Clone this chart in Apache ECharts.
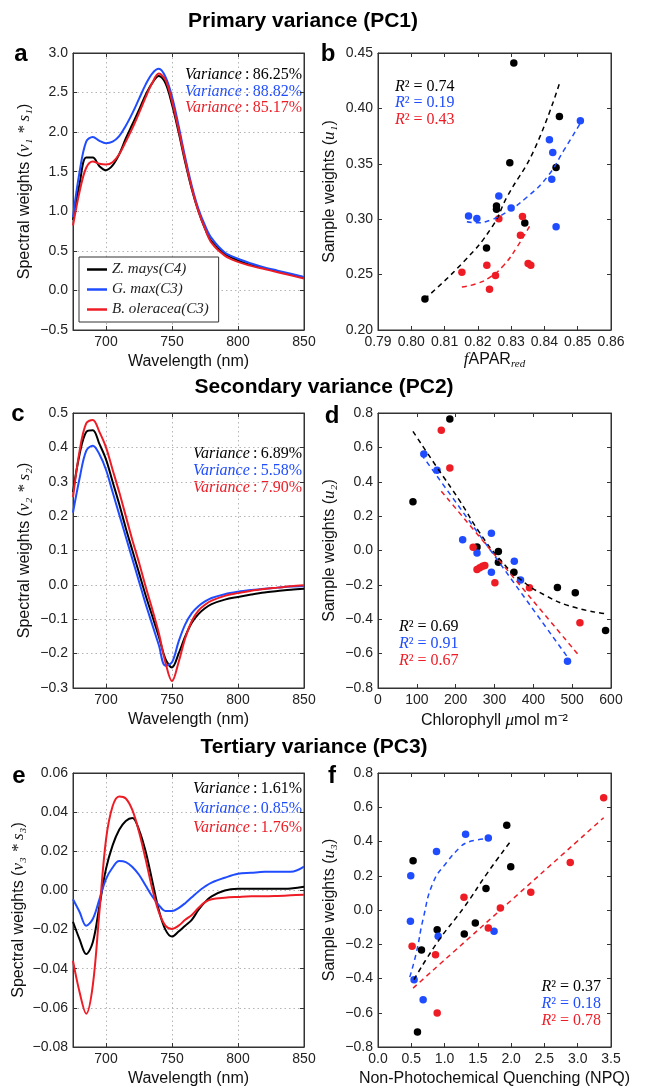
<!DOCTYPE html>
<html><head><meta charset="utf-8">
<script src="https://cdn.jsdelivr.net/npm/echarts@6/dist/echarts.min.js"></script>
<style>html,body{margin:0;padding:0;background:#fff}#c{width:646px;height:1088px}</style>
</head><body><div id="c"></div>
<script>
// ---------- DATA ----------
const wavelengths = [675,680,685,690,695,700,705,710,715,720,725,730,735,740,745,750,755,760,765,770,775,780,790,800,810,820,830,840,850];
const seriesNames = ['Z. mays(C4)','G. max(C3)','B. oleracea(C3)'];
// PC1 spectral weights
const pc1Mays    = [0.89,1.35,1.68,1.68,1.57,1.52,1.58,1.72,1.92,2.10,2.28,2.47,2.62,2.71,2.62,2.35,2.00,1.62,1.28,1.00,0.78,0.62,0.46,0.38,0.32,0.28,0.24,0.20,0.165];
const pc1Max     = [0.93,1.50,1.88,1.94,1.89,1.86,1.88,1.95,2.08,2.24,2.42,2.60,2.74,2.80,2.70,2.45,2.08,1.68,1.32,1.03,0.82,0.66,0.48,0.40,0.34,0.29,0.25,0.21,0.17];
const pc1Oleracea= [0.82,1.25,1.55,1.63,1.60,1.59,1.62,1.72,1.88,2.05,2.24,2.44,2.62,2.74,2.66,2.39,2.03,1.64,1.29,1.00,0.78,0.60,0.44,0.36,0.31,0.27,0.23,0.19,0.15];
// PC2 spectral weights
const pc2Mays    = [0.27,0.38,0.445,0.45,0.41,0.365,0.30,0.235,0.165,0.10,0.035,-0.03,-0.09,-0.15,-0.215,-0.24,-0.20,-0.15,-0.11,-0.085,-0.068,-0.056,-0.043,-0.035,-0.028,-0.022,-0.018,-0.014,-0.011];
const pc2Max     = [0.21,0.31,0.39,0.405,0.38,0.335,0.27,0.205,0.14,0.075,0.01,-0.055,-0.115,-0.175,-0.235,-0.225,-0.165,-0.115,-0.082,-0.062,-0.048,-0.038,-0.027,-0.02,-0.015,-0.011,-0.008,-0.005,-0.003];
const pc2Oleracea= [0.255,0.39,0.47,0.48,0.445,0.40,0.335,0.27,0.20,0.13,0.065,-0.005,-0.07,-0.14,-0.225,-0.28,-0.225,-0.155,-0.105,-0.075,-0.058,-0.046,-0.032,-0.024,-0.017,-0.012,-0.008,-0.004,-0.001];
// PC3 spectral weights
const pc3Mays    = [-0.016,-0.025,-0.0325,-0.0265,-0.008,0.011,0.023,0.031,0.0355,0.037,0.031,0.020,0.005,-0.010,-0.020,-0.0236,-0.021,-0.018,-0.015,-0.010,-0.006,-0.003,0.0,0.0008,0.0008,0.0008,0.0008,0.001,0.0019];
const pc3Max     = [-0.0045,-0.011,-0.018,-0.0146,-0.0045,0.0058,0.0117,0.015,0.0145,0.012,0.008,0.0025,-0.003,-0.0075,-0.0105,-0.0105,-0.009,-0.0065,-0.0035,-0.0005,0.002,0.004,0.0065,0.0085,0.009,0.0095,0.0095,0.0095,0.0122];
const pc3Oleracea= [-0.036,-0.052,-0.063,-0.0485,-0.011,0.026,0.043,0.048,0.047,0.041,0.030,0.016,0.001,-0.011,-0.018,-0.0197,-0.018,-0.015,-0.0125,-0.009,-0.006,-0.0045,-0.0037,-0.0033,-0.003,-0.003,-0.0028,-0.0025,-0.0022];
const varianceLabels = [['86.25%','88.82%','85.17%'],['6.89%','5.58%','7.90%'],['1.61%','0.85%','1.76%']];
// Panel b: fAPAR vs u1
const bMaysPts = [[0.8041,0.228],[0.8226,0.274],[0.8256,0.312],[0.8256,0.309],[0.8296,0.351],[0.8308,0.441],[0.8341,0.2965],[0.8435,0.3466],[0.8445,0.3927]];
const bMaxPts  = [[0.8172,0.3028],[0.8197,0.3007],[0.8263,0.3209],[0.8300,0.3101],[0.8415,0.3716],[0.8425,0.3601],[0.8422,0.336],[0.8435,0.2932],[0.8508,0.3888]];
const bOlePts  = [[0.8152,0.2522],[0.8227,0.2585],[0.8235,0.2368],[0.8253,0.2492],[0.8263,0.3004],[0.8334,0.3025],[0.8328,0.2856],[0.8351,0.26],[0.8359,0.2585]];
const bMaysFit = [[0.804,0.228],[0.8157,0.2615],[0.8243,0.2932],[0.8288,0.3203],[0.8369,0.3625],[0.8447,0.4244]];
const bMaxFit  = [[0.8167,0.2977],[0.8197,0.2968],[0.8238,0.2992],[0.8288,0.3068],[0.8349,0.3203],[0.8409,0.3384],[0.8459,0.3625],[0.8508,0.3867]];
const bOleFit  = [[0.8152,0.2389],[0.8197,0.2419],[0.8238,0.2480],[0.8278,0.2585],[0.8318,0.2751],[0.8359,0.2956]];
const bR2 = ['0.74','0.19','0.43'];
// Panel d: chlorophyll vs u2
const dMaysPts = [[90,0.283],[185,0.765],[255,0.021],[310,-0.006],[310,-0.068],[350,-0.126],[462,-0.215],[508,-0.246],[586,-0.465]];
const dMaxPts  = [[118,0.562],[152,0.467],[218,0.062],[255,-0.015],[292,0.101],[292,-0.126],[351,-0.062],[367,-0.172],[488,-0.645]];
const dOlePts  = [[163,0.699],[185,0.48],[245,0.019],[255,-0.11],[262,-0.10],[269,-0.091],[275,-0.087],[301,-0.188],[390,-0.217],[520,-0.42]];
const dMaysFit = [[90,0.693],[150,0.49],[211,0.287],[262,0.103],[314,-0.052],[365,-0.165],[434,-0.265],[503,-0.329],[586,-0.368]];
const dMaxFit  = [[112,0.558],[486,-0.614]];
const dOleFit  = [[163,0.345],[520,-0.618]];
const dR2 = ['0.69','0.91','0.67'];
// Panel f: NPQ vs u3
const fMaysPts = [[0.527,0.287],[0.653,-0.233],[0.593,-0.712],[0.889,-0.116],[1.296,-0.14],[1.462,-0.076],[1.622,0.126],[1.934,0.495],[1.994,0.252]];
const fMaxPts  = [[0.492,0.2],[0.487,-0.066],[0.542,-0.407],[0.678,-0.524],[0.879,0.341],[0.904,-0.153],[1.316,0.442],[1.657,0.421],[1.743,-0.124]];
const fOlePts  = [[0.512,-0.211],[0.864,-0.262],[0.889,-0.601],[1.291,0.074],[1.657,-0.105],[1.838,0.012],[2.295,0.103],[2.888,0.277],[3.39,0.656]];
const fMaysFit = [[0.54,-0.407],[0.89,-0.19],[1.3,0.02],[1.65,0.22],[1.99,0.40]];
const fMaxFit  = [[0.477,-0.392],[0.578,-0.246],[0.678,-0.052],[0.829,0.161],[1.03,0.277],[1.23,0.365],[1.316,0.39],[1.48,0.409],[1.657,0.417]];
const fOleFit  = [[0.527,-0.456],[3.39,0.539]];
const fR2 = ['0.37','0.18','0.78'];
const wavelengthTicks = [700,750,800,850];
const titles = ['Primary variance (PC1)','Secondary variance (PC2)','Tertiary variance (PC3)'];
const panelLetters = ['a','b','c','d','e','f'];

// ---------- STYLE ----------
const COLORS = ['#000000','#1f4cff','#ee1c25'];
const SANS = 'Liberation Sans';
const SERIF = 'Liberation Serif';
const grids = [
  {left:73, top:53, width:231, height:277},
  {left:378, top:53, width:233, height:277},
  {left:73, top:413, width:231, height:275},
  {left:378, top:413, width:233, height:275},
  {left:73, top:773, width:231, height:277},
  {left:378, top:773, width:233, height:275}
];
const minus = s => String(s).replace('-', '\u2212');
const fmt = d => v => minus(Number(v).toFixed(d));
const mathRich = {
  m: {fontFamily: SERIF, fontStyle:'italic', fontSize:17},
  sub: {fontFamily: SERIF, fontStyle:'italic', fontSize:11, padding:[9,0,0,0]},
  n: {fontFamily: SERIF, fontSize:17}
};
const nameStyle = {fontFamily:SANS, fontSize:16, color:'#111', rich: mathRich};
const axisLine = {show:true, onZero:false, lineStyle:{color:'#333', width:1}};
const labelStyle = {fontFamily:SANS, fontSize:14, color:'#222'};
const gridDots = {show:true, lineStyle:{color:'#b5b5b5', type:[1.5,3], width:1}};

const xAxes = [], yAxes = [];
function addAxes(gi, xo, yo, dotted) {
  const xa = Object.assign({type:'value', gridIndex:gi, position:'bottom', axisLine,
    axisTick:{inside:true, length:4, lineStyle:{color:'#333'}},
    axisLabel:Object.assign({margin:5}, labelStyle),
    splitLine: dotted ? gridDots : {show:false},
    nameLocation:'middle', nameTextStyle:nameStyle}, xo);
  if (xo.customValues) {
    xa.axisTick.customValues = xo.customValues;
    xa.axisLabel.customValues = xo.customValues;
    delete xa.customValues;
  }
  const ya = Object.assign({type:'value', gridIndex:gi, position:'left', axisLine,
    axisTick:{inside:true, length:4, lineStyle:{color:'#333'}},
    axisLabel:Object.assign({margin:5}, labelStyle),
    splitLine: dotted ? gridDots : {show:false},
    nameLocation:'middle', nameRotate:90, nameTextStyle:nameStyle}, yo);
  const xm = {type:'value', gridIndex:gi, position:'top', min:xa.min, max:xa.max, interval:xa.interval,
    axisLine, axisLabel:{show:false}, splitLine:{show:false},
    axisTick:{inside:true, length:4, lineStyle:{color:'#333'}}};
  if (xa.axisTick.customValues) { xm.axisTick.customValues = xa.axisTick.customValues; delete xm.interval; }
  const ym = {type:'value', gridIndex:gi, position:'right', min:ya.min, max:ya.max, interval:ya.interval,
    axisLine, axisLabel:{show:false}, splitLine:{show:false},
    axisTick:{inside:true, length:4, lineStyle:{color:'#333'}}};
  xAxes.push(xa, xm); yAxes.push(ya, ym);
}
const wlX = {min:675, max:850, customValues:wavelengthTicks, name:'Wavelength (nm)', nameGap:24, axisLabel:Object.assign({margin:5, formatter:v=>String(v)}, labelStyle)};
addAxes(0, Object.assign({}, wlX, {axisLabel:Object.assign({}, wlX.axisLabel)}),
  {min:-0.5, max:3.0, interval:0.5, axisLabel:Object.assign({margin:5, formatter:fmt(1)}, labelStyle), name:'Spectral weights ({m|v\u2081 * s\u2081})', nameGap:40}, true);
addAxes(1, {min:0.79, max:0.86, interval:0.01, axisLabel:Object.assign({margin:5, formatter:fmt(2)}, labelStyle), name:'{m|f}APAR{sub|red}', nameGap:20},
  {min:0.20, max:0.45, interval:0.05, axisLabel:Object.assign({margin:5, formatter:fmt(2)}, labelStyle), name:'Sample weights ({m|u\u2081})', nameGap:40}, false);
addAxes(2, Object.assign({}, wlX, {axisLabel:Object.assign({}, wlX.axisLabel)}),
  {min:-0.3, max:0.5, interval:0.1, axisLabel:Object.assign({margin:5, formatter:fmt(1)}, labelStyle), name:'Spectral weights ({m|v\u2082 * s\u2082})', nameGap:40}, true);
addAxes(3, {min:0, max:600, interval:100, axisLabel:Object.assign({margin:5, formatter:fmt(0)}, labelStyle), name:'Chlorophyll {m|\u03bc}mol m\u207b\u00b2', nameGap:24},
  {min:-0.8, max:0.8, interval:0.2, axisLabel:Object.assign({margin:5, formatter:fmt(1)}, labelStyle), name:'Sample weights ({m|u\u2082})', nameGap:40}, false);
addAxes(4, Object.assign({}, wlX, {axisLabel:Object.assign({}, wlX.axisLabel)}),
  {min:-0.08, max:0.06, interval:0.02, axisLabel:Object.assign({margin:5, formatter:fmt(2)}, labelStyle), name:'Spectral weights ({m|v\u2083 * s\u2083})', nameGap:46}, true);
addAxes(5, {min:0, max:3.5, interval:0.5, axisLabel:Object.assign({margin:5, formatter:fmt(1)}, labelStyle), name:'Non-Photochemical Quenching (NPQ)', nameGap:24},
  {min:-0.8, max:0.8, interval:0.2, axisLabel:Object.assign({margin:5, formatter:fmt(1)}, labelStyle), name:'Sample weights ({m|u\u2083})', nameGap:40}, false);

// ---------- SERIES ----------
const series = [];
function spectral(gi, arrs) {
  arrs.forEach((arr, k) => series.push({
    type:'line', name: gi === 0 ? seriesNames[k] : seriesNames[k] + ' ' + gi,
    xAxisIndex: gi*2, yAxisIndex: gi*2,
    data: wavelengths.map((w,i)=>[w, arr[i]]),
    symbol:'none', showSymbol:false, smooth:0.35, silent:true,
    lineStyle:{color:COLORS[k], width:2}, itemStyle:{color:COLORS[k]}
  }));
}
function scatterPanel(gi, pts, fits) {
  pts.forEach((p, k) => series.push({
    type:'scatter', name:'pts'+gi+'_'+k, xAxisIndex:gi*2, yAxisIndex:gi*2,
    data:p, symbolSize:7.5, itemStyle:{color:COLORS[k], opacity:1}, silent:true, z:3
  }));
  fits.forEach((f, k) => series.push({
    type:'line', name:'fit'+gi+'_'+k, xAxisIndex:gi*2, yAxisIndex:gi*2,
    data:f, symbol:'none', showSymbol:false, smooth:true, silent:true, z:4,
    lineStyle:{color:COLORS[k], width:1.5, type:[5,4]}
  }));
}
spectral(0, [pc1Mays, pc1Max, pc1Oleracea]);
scatterPanel(1, [bMaysPts, bMaxPts, bOlePts], [bMaysFit, bMaxFit, bOleFit]);
spectral(2, [pc2Mays, pc2Max, pc2Oleracea]);
scatterPanel(3, [dMaysPts, dMaxPts, dOlePts], [dMaysFit, dMaxFit, dOleFit]);
spectral(4, [pc3Mays, pc3Max, pc3Oleracea]);
scatterPanel(5, [fMaysPts, fMaxPts, fOlePts], [fMaysFit, fMaxFit, fOleFit]);

// ---------- TEXT ----------
const graphic = [];
const titlePos = [[303,21],[324,387],[314,747]];
titles.forEach((t,i)=>graphic.push({type:'text', x:titlePos[i][0], y:titlePos[i][1],
  style:{text:t, fontFamily:SANS, fontWeight:'bold', fontSize:21, fill:'#000', align:'center', verticalAlign:'middle'}}));
const letterPos = [[21,54],[328,54],[18,414],[332,416],[19,776],[332,776]];
panelLetters.forEach((l,i)=>graphic.push({type:'text', x:letterPos[i][0], y:letterPos[i][1],
  style:{text:l, fontFamily:SANS, fontWeight:'bold', fontSize:24, fill:'#000', align:'center', verticalAlign:'middle'}}));
const serifRich = {
  i:{fontFamily:SERIF, fontStyle:'italic', fontSize:16},
  n:{fontFamily:SERIF, fontSize:16}
};
const varY = [[75,92,108],[454,471,488],[789,809,828]];
varianceLabels.forEach((labs,p)=>labs.forEach((v,k)=>graphic.push({type:'text', x:302, y:varY[p][k],
  style:{text:'{i|Variance}{n|\u2009:\u2009' + v + '}', rich:serifRich, fill:COLORS[k], align:'right', verticalAlign:'middle'}})));
function r2(list, x, ys, align) {
  list.forEach((v,k)=>graphic.push({type:'text', x, y:ys[k],
    style:{text:'{i|R}{n|\u00b2 = ' + v + '}', rich:serifRich, fill:COLORS[k], align, verticalAlign:'middle'}}));
}
r2(bR2, 395, [87,103,120], 'left');
r2(dR2, 399, [627,644,661], 'left');
r2(fR2, 601, [987,1004,1021], 'right');

const chart = echarts.init(document.getElementById('c'), null, {renderer:'canvas', width:646, height:1088});
chart.setOption({
  animation:false,
  backgroundColor:'#fff',
  grid: grids.map(g=>Object.assign({show:true, borderColor:'#333', borderWidth:1, backgroundColor:'transparent'}, g)),
  xAxis: xAxes, yAxis: yAxes,
  legend: {data:seriesNames.map(n=>({name:n, icon:'rect'})), left:79, top:257, orient:'vertical', selectedMode:false,
    borderColor:'#333', borderWidth:1, borderRadius:0, backgroundColor:'#fff',
    padding:[5,10,5,8], itemGap:5, itemWidth:20, itemHeight:2.5,
    textStyle:{fontFamily:SERIF, fontStyle:'italic', fontSize:15, color:'#222', lineHeight:15}},
  series, graphic
});
</script></body></html>
